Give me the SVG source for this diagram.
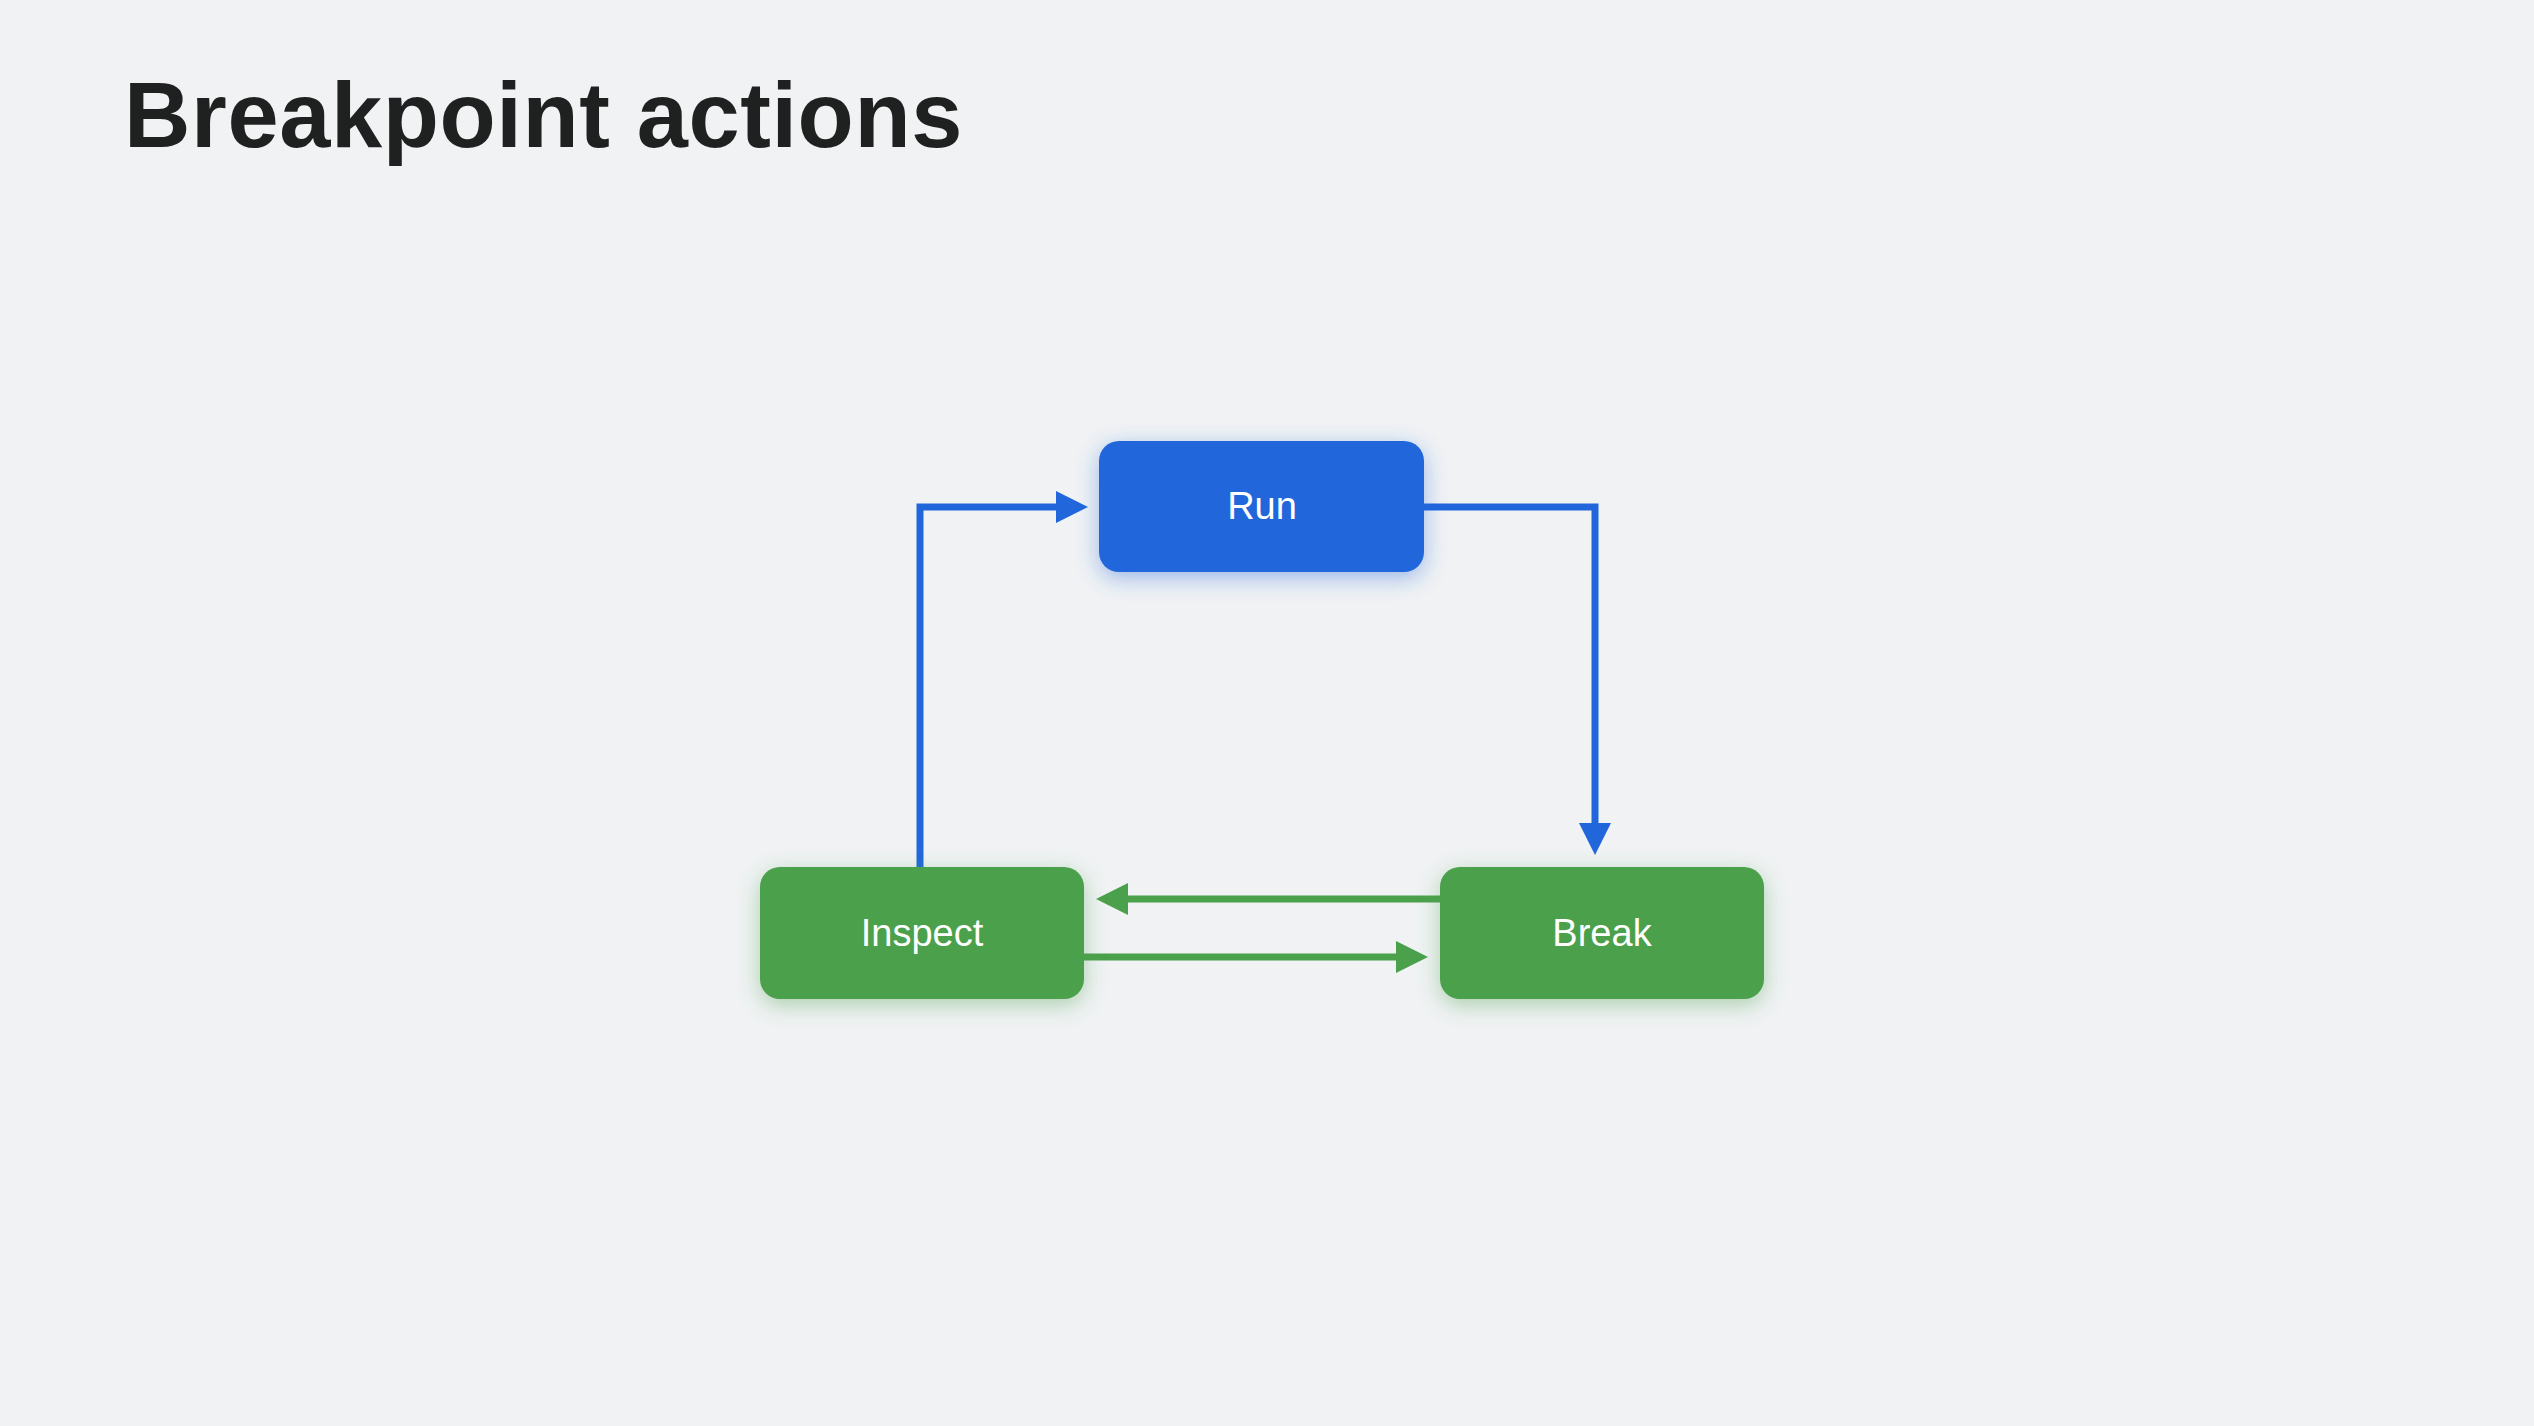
<svg xmlns="http://www.w3.org/2000/svg" width="2534" height="1426" viewBox="0 0 2534 1426">
  <defs>
    <filter id="glowBlue" x="-25%" y="-40%" width="150%" height="190%">
      <feDropShadow dx="0" dy="6" stdDeviation="11" flood-color="#2166DB" flood-opacity="0.42"/>
    </filter>
    <filter id="glowGreen" x="-25%" y="-40%" width="150%" height="190%">
      <feDropShadow dx="0" dy="6" stdDeviation="11" flood-color="#4BA04B" flood-opacity="0.42"/>
    </filter>
  </defs>
  <style>
    .title { font-family: "Liberation Sans", Arial, sans-serif; font-weight: bold; font-size: 92px; letter-spacing: 0.6px; fill: #1F2121; }
    .label { font-family: "Liberation Sans", Arial, sans-serif; font-size: 38px; fill: #FFFFFF; text-anchor: middle; }
    .blue { fill: #2166DB; }
    .green { fill: #4BA04B; }
    .lineBlue { fill: none; stroke: #2166DB; stroke-width: 7; }
    .lineGreen { fill: none; stroke: #4BA04B; stroke-width: 7; }
  </style>
  <rect x="0" y="0" width="2534" height="1426" fill="#F0F2F4"/>
  <text class="title" x="124" y="147">Breakpoint actions</text>

  <g id="connectors">
    <path class="lineBlue" d="M920,867 V507 H1060"/>
    <polygon class="blue" points="1056,491 1088,507 1056,523"/>
    <path class="lineBlue" d="M1424,507 H1595 V827"/>
    <polygon class="blue" points="1579,823 1611,823 1595,855"/>
    <path class="lineGreen" d="M1440,899 H1124"/>
    <polygon class="green" points="1128,883 1096,899 1128,915"/>
    <path class="lineGreen" d="M1083,957 H1400"/>
    <polygon class="green" points="1396,941 1428,957 1396,973"/>
  </g>

  <g id="node-run">
    <rect class="blue" x="1099" y="441" width="325" height="131" rx="20" filter="url(#glowBlue)"/>
    <text class="label" x="1262" y="519">Run</text>
  </g>
  <g id="node-inspect">
    <rect class="green" x="760" y="867" width="324" height="132" rx="20" filter="url(#glowGreen)"/>
    <text class="label" x="922" y="946">Inspect</text>
  </g>
  <g id="node-break">
    <rect class="green" x="1440" y="867" width="324" height="132" rx="20" filter="url(#glowGreen)"/>
    <text class="label" x="1602" y="946">Break</text>
  </g>
</svg>
